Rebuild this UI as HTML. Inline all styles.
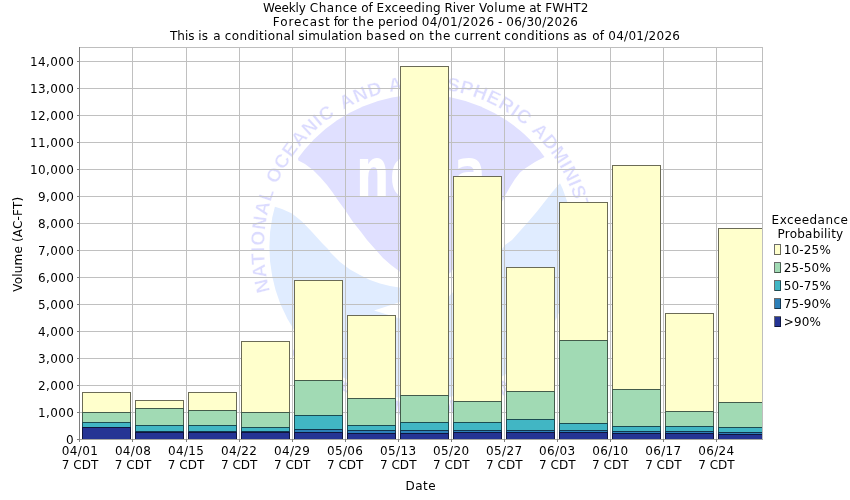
<!DOCTYPE html>
<html lang="en"><head><meta charset="utf-8"><title>Weekly Chance of Exceeding River Volume at FWHT2</title>
<style>html,body{margin:0;padding:0;background:#fff}body{width:850px;height:500px;overflow:hidden}svg{display:block}text{font-family:"DejaVu Sans", "Liberation Sans", sans-serif;font-size:12px;fill:#000}.t{text-anchor:middle}.r{text-anchor:end}.ring{font-family:"Liberation Sans",sans-serif;font-weight:bold;fill:#dcdcff;stroke:#fff;stroke-width:0.3px}.noaa{font-family:"DejaVu Sans","Liberation Sans",sans-serif;font-weight:bold;fill:#fff}</style></head><body>
<svg width="850" height="500" viewBox="0 0 850 500">
<rect width="850" height="500" fill="#fff"/>
<g opacity="0.999">
<g><text x="263.10" y="11.70" textLength="42.82" lengthAdjust="spacing">Weekly</text><text x="309.83" y="11.70" textLength="47.41" lengthAdjust="spacing">Chance</text><text x="361.14" y="11.70">of</text><text x="376.62" y="11.70" textLength="64.00" lengthAdjust="spacing">Exceeding</text><text x="444.52" y="11.70" textLength="30.48" lengthAdjust="spacing">River</text><text x="478.91" y="11.70" textLength="46.47" lengthAdjust="spacing">Volume</text><text x="529.28" y="11.70">at</text><text x="545.32" y="11.70" textLength="43.08" lengthAdjust="spacing">FWHT2</text></g>
<g><text x="272.82" y="25.70" textLength="57.00" lengthAdjust="spacing">Forecast</text><text x="333.72" y="25.70" textLength="15.05" lengthAdjust="spacing">for</text><text x="352.68" y="25.70" textLength="21.33" lengthAdjust="spacing">the</text><text x="377.91" y="25.70" textLength="39.90" lengthAdjust="spacing">period</text><text x="421.71" y="25.70" textLength="72.31" lengthAdjust="spacing">04/01/2026</text><text x="497.91" y="25.70">-</text><text x="506.21" y="25.70" textLength="71.75" lengthAdjust="spacing">06/30/2026</text></g>
<g><text x="170.04" y="39.70" textLength="24.43" lengthAdjust="spacing">This</text><text x="198.37" y="39.70">is</text><text x="213.28" y="39.70">a</text><text x="224.84" y="39.70" textLength="69.61" lengthAdjust="spacing">conditional</text><text x="298.35" y="39.70" textLength="63.66" lengthAdjust="spacing">simulation</text><text x="365.91" y="39.70" textLength="39.53" lengthAdjust="spacing">based</text><text x="409.34" y="39.70">on</text><text x="429.18" y="39.70" textLength="21.26" lengthAdjust="spacing">the</text><text x="454.34" y="39.70" textLength="46.10" lengthAdjust="spacing">current</text><text x="504.34" y="39.70" textLength="65.04" lengthAdjust="spacing">conditions</text><text x="573.28" y="39.70">as</text><text x="592.34" y="39.70">of</text><text x="608.21" y="39.70" textLength="71.75" lengthAdjust="spacing">04/01/2026</text></g>
<defs><clipPath id="pc"><rect x="79" y="47" width="684" height="393"/></clipPath>
<clipPath id="disc"><circle cx="421.8" cy="247" r="152.4"/></clipPath>
<path id="arcTop" d="M273.68 301.61 A158.8 158.8 0 1 1 570.14 306.79" fill="none"/>
<path id="arcBot" d="M289.73 351.35 A169 169 0 0 0 556.07 351.35" fill="none"/>
</defs>
<g clip-path="url(#pc)">
<g id="logo">
<g clip-path="url(#disc)">
<path fill="#e0e0ff" d="M250 120 L298 158 L298.3 160.5 L305 164 L313 170 L320 177 L327 185 L333 193 L337 199 L345 210 L353 222 L361 232 L367 240 L375 249 L383 258 L391 265 L399 271 L412 283 L424 291 L436 286 L451 272 L470 247 L488 220 L503 200 L506 194 L510 187 L515 179 L520 172.5 L525 168.5 L535 162 L544.5 157 L600 130 L600 60 L250 60 Z"/>
<path fill="#e0ecff" d="M260 200 L275 206.8 L282 209 L292 213.5 L302 221.5 L312 232 L322 243 L328 249 L330 252 L340 262 L350 269.5 L360 275 L370 280 L380 283.5 L390 286 L399 287.5 L440 292 L440 298 L400 302 L391 305 L374 310.5 L387 314.5 L400 318.5 L430 322 L451 294 L502 249 L505 245 L512 240 L520 231 L528 222 L537 211.5 L546 200 L554 190 L561.5 181.5 L600 150 L600 420 L250 420 Z"/>
</g>
<text class="noaa" style="font-size:68.5px" transform="translate(360.00,195.6) scale(0.6850,1)" x="-5.75" y="0">n</text>
<text class="noaa" style="font-size:68.5px" transform="translate(392.00,195.6) scale(0.6266,1)" x="-2.94" y="0">o</text>
<text class="noaa" style="font-size:68.5px" transform="translate(424.00,195.6) scale(0.6808,1)" x="-2.94" y="0">a</text>
<text class="noaa" style="font-size:68.5px" transform="translate(456.00,195.6) scale(0.6808,1)" x="-2.94" y="0">a</text>
<text class="ring" style="font-size:19px;letter-spacing:0.67px"><textPath href="#arcTop" startOffset="11.09">NATIONAL</textPath></text>
<text class="ring" style="font-size:19px;letter-spacing:0.77px"><textPath href="#arcTop" startOffset="119.73">OCEANIC</textPath></text>
<text class="ring" style="font-size:19px;letter-spacing:0.77px"><textPath href="#arcTop" startOffset="221.45">AND</textPath></text>
<text class="ring" style="font-size:19px;letter-spacing:0.57px"><textPath href="#arcTop" startOffset="271.06">ATMOSPHERIC</textPath></text>
<text class="ring" style="font-size:19px;letter-spacing:0.37px"><textPath href="#arcTop" startOffset="423.50">ADMINISTRATION</textPath></text>
<text class="ring" style="font-size:20px"><textPath href="#arcBot" textLength="306.759" lengthAdjust="spacing">U.S. DEPARTMENT OF COMMERCE</textPath></text>
</g>
<g shape-rendering="crispEdges" stroke="#c0c0c0" stroke-width="1">
<line x1="132.5" y1="47" x2="132.5" y2="439"/>
<line x1="186.5" y1="47" x2="186.5" y2="439"/>
<line x1="239.5" y1="47" x2="239.5" y2="439"/>
<line x1="292.5" y1="47" x2="292.5" y2="439"/>
<line x1="345.5" y1="47" x2="345.5" y2="439"/>
<line x1="398.5" y1="47" x2="398.5" y2="439"/>
<line x1="451.5" y1="47" x2="451.5" y2="439"/>
<line x1="504.5" y1="47" x2="504.5" y2="439"/>
<line x1="557.5" y1="47" x2="557.5" y2="439"/>
<line x1="610.5" y1="47" x2="610.5" y2="439"/>
<line x1="663.5" y1="47" x2="663.5" y2="439"/>
<line x1="716.5" y1="47" x2="716.5" y2="439"/>
<line x1="79" y1="412.5" x2="763" y2="412.5"/>
<line x1="79" y1="385.5" x2="763" y2="385.5"/>
<line x1="79" y1="358.5" x2="763" y2="358.5"/>
<line x1="79" y1="331.5" x2="763" y2="331.5"/>
<line x1="79" y1="304.5" x2="763" y2="304.5"/>
<line x1="79" y1="277.5" x2="763" y2="277.5"/>
<line x1="79" y1="250.5" x2="763" y2="250.5"/>
<line x1="79" y1="223.5" x2="763" y2="223.5"/>
<line x1="79" y1="196.5" x2="763" y2="196.5"/>
<line x1="79" y1="169.5" x2="763" y2="169.5"/>
<line x1="79" y1="142.5" x2="763" y2="142.5"/>
<line x1="79" y1="115.5" x2="763" y2="115.5"/>
<line x1="79" y1="88.5" x2="763" y2="88.5"/>
<line x1="79" y1="61.5" x2="763" y2="61.5"/>
</g>
<g shape-rendering="crispEdges">
<rect x="82" y="392" width="49" height="21" fill="#ffffcc"/>
<rect x="82" y="412" width="49" height="11" fill="#a1dab4"/>
<rect x="82" y="422" width="49" height="6" fill="#41b6c4"/>
<rect x="82" y="427" width="49" height="13" fill="#253494"/>
<rect x="135" y="400" width="49" height="9" fill="#ffffcc"/>
<rect x="135" y="408" width="49" height="18" fill="#a1dab4"/>
<rect x="135" y="425" width="49" height="7" fill="#41b6c4"/>
<rect x="135" y="431" width="49" height="2" fill="#2c7fb8"/>
<rect x="135" y="432" width="49" height="8" fill="#253494"/>
<rect x="188" y="392" width="49" height="19" fill="#ffffcc"/>
<rect x="188" y="410" width="49" height="16" fill="#a1dab4"/>
<rect x="188" y="425" width="49" height="7" fill="#41b6c4"/>
<rect x="188" y="431" width="49" height="2" fill="#2c7fb8"/>
<rect x="188" y="432" width="49" height="8" fill="#253494"/>
<rect x="241" y="341" width="49" height="72" fill="#ffffcc"/>
<rect x="241" y="412" width="49" height="16" fill="#a1dab4"/>
<rect x="241" y="427" width="49" height="5" fill="#41b6c4"/>
<rect x="241" y="431" width="49" height="2" fill="#2c7fb8"/>
<rect x="241" y="432" width="49" height="8" fill="#253494"/>
<rect x="294" y="280" width="49" height="101" fill="#ffffcc"/>
<rect x="294" y="380" width="49" height="36" fill="#a1dab4"/>
<rect x="294" y="415" width="49" height="15" fill="#41b6c4"/>
<rect x="294" y="429" width="49" height="4" fill="#2c7fb8"/>
<rect x="294" y="432" width="49" height="8" fill="#253494"/>
<rect x="347" y="315" width="49" height="84" fill="#ffffcc"/>
<rect x="347" y="398" width="49" height="28" fill="#a1dab4"/>
<rect x="347" y="425" width="49" height="6" fill="#41b6c4"/>
<rect x="347" y="430" width="49" height="4" fill="#2c7fb8"/>
<rect x="347" y="433" width="49" height="7" fill="#253494"/>
<rect x="400" y="66" width="49" height="330" fill="#ffffcc"/>
<rect x="400" y="395" width="49" height="28" fill="#a1dab4"/>
<rect x="400" y="422" width="49" height="9" fill="#41b6c4"/>
<rect x="400" y="430" width="49" height="4" fill="#2c7fb8"/>
<rect x="400" y="433" width="49" height="7" fill="#253494"/>
<rect x="453" y="176" width="49" height="226" fill="#ffffcc"/>
<rect x="453" y="401" width="49" height="22" fill="#a1dab4"/>
<rect x="453" y="422" width="49" height="9" fill="#41b6c4"/>
<rect x="453" y="430" width="49" height="3" fill="#2c7fb8"/>
<rect x="453" y="432" width="49" height="8" fill="#253494"/>
<rect x="506" y="267" width="49" height="125" fill="#ffffcc"/>
<rect x="506" y="391" width="49" height="29" fill="#a1dab4"/>
<rect x="506" y="419" width="49" height="12" fill="#41b6c4"/>
<rect x="506" y="430" width="49" height="3" fill="#2c7fb8"/>
<rect x="506" y="432" width="49" height="8" fill="#253494"/>
<rect x="559" y="202" width="49" height="139" fill="#ffffcc"/>
<rect x="559" y="340" width="49" height="84" fill="#a1dab4"/>
<rect x="559" y="423" width="49" height="8" fill="#41b6c4"/>
<rect x="559" y="430" width="49" height="3" fill="#2c7fb8"/>
<rect x="559" y="432" width="49" height="8" fill="#253494"/>
<rect x="612" y="165" width="49" height="225" fill="#ffffcc"/>
<rect x="612" y="389" width="49" height="38" fill="#a1dab4"/>
<rect x="612" y="426" width="49" height="6" fill="#41b6c4"/>
<rect x="612" y="431" width="49" height="3" fill="#2c7fb8"/>
<rect x="612" y="433" width="49" height="7" fill="#253494"/>
<rect x="665" y="313" width="49" height="99" fill="#ffffcc"/>
<rect x="665" y="411" width="49" height="16" fill="#a1dab4"/>
<rect x="665" y="426" width="49" height="6" fill="#41b6c4"/>
<rect x="665" y="431" width="49" height="3" fill="#2c7fb8"/>
<rect x="665" y="433" width="49" height="7" fill="#253494"/>
<rect x="718" y="228" width="49" height="175" fill="#ffffcc"/>
<rect x="718" y="402" width="49" height="26" fill="#a1dab4"/>
<rect x="718" y="427" width="49" height="6" fill="#41b6c4"/>
<rect x="718" y="432" width="49" height="3" fill="#2c7fb8"/>
<rect x="718" y="434" width="49" height="6" fill="#253494"/>
<path fill="none" stroke="rgba(0,0,0,0.58)" stroke-width="1" d="M82.5 392.5H130.5V439.5H82.5ZM82.5 412.5H130.5M82.5 422.5H130.5M82.5 427.5H130.5M135.5 400.5H183.5V439.5H135.5ZM135.5 408.5H183.5M135.5 425.5H183.5M135.5 431.5H183.5M135.5 432.5H183.5M188.5 392.5H236.5V439.5H188.5ZM188.5 410.5H236.5M188.5 425.5H236.5M188.5 431.5H236.5M188.5 432.5H236.5M241.5 341.5H289.5V439.5H241.5ZM241.5 412.5H289.5M241.5 427.5H289.5M241.5 431.5H289.5M241.5 432.5H289.5M294.5 280.5H342.5V439.5H294.5ZM294.5 380.5H342.5M294.5 415.5H342.5M294.5 429.5H342.5M294.5 432.5H342.5M347.5 315.5H395.5V439.5H347.5ZM347.5 398.5H395.5M347.5 425.5H395.5M347.5 430.5H395.5M347.5 433.5H395.5M400.5 66.5H448.5V439.5H400.5ZM400.5 395.5H448.5M400.5 422.5H448.5M400.5 430.5H448.5M400.5 433.5H448.5M453.5 176.5H501.5V439.5H453.5ZM453.5 401.5H501.5M453.5 422.5H501.5M453.5 430.5H501.5M453.5 432.5H501.5M506.5 267.5H554.5V439.5H506.5ZM506.5 391.5H554.5M506.5 419.5H554.5M506.5 430.5H554.5M506.5 432.5H554.5M559.5 202.5H607.5V439.5H559.5ZM559.5 340.5H607.5M559.5 423.5H607.5M559.5 430.5H607.5M559.5 432.5H607.5M612.5 165.5H660.5V439.5H612.5ZM612.5 389.5H660.5M612.5 426.5H660.5M612.5 431.5H660.5M612.5 433.5H660.5M665.5 313.5H713.5V439.5H665.5ZM665.5 411.5H713.5M665.5 426.5H713.5M665.5 431.5H713.5M665.5 433.5H713.5M718.5 228.5H766.5V439.5H718.5ZM718.5 402.5H766.5M718.5 427.5H766.5M718.5 432.5H766.5M718.5 434.5H766.5"/>
</g>
</g>
<g shape-rendering="crispEdges" fill="none">
<rect x="79.5" y="47.5" width="683" height="392" stroke="#bebebe"/>
<line x1="79.5" y1="47" x2="79.5" y2="440" stroke="#7e7e7e"/>
<line x1="79" y1="439.5" x2="763" y2="439.5" stroke="#a6a6a2"/>
<line x1="79.5" y1="439" x2="79.5" y2="442" stroke="#7e7e7e"/>
<line x1="132.5" y1="439" x2="132.5" y2="442" stroke="#7e7e7e"/>
<line x1="186.5" y1="439" x2="186.5" y2="442" stroke="#7e7e7e"/>
<line x1="239.5" y1="439" x2="239.5" y2="442" stroke="#7e7e7e"/>
<line x1="292.5" y1="439" x2="292.5" y2="442" stroke="#7e7e7e"/>
<line x1="345.5" y1="439" x2="345.5" y2="442" stroke="#7e7e7e"/>
<line x1="398.5" y1="439" x2="398.5" y2="442" stroke="#7e7e7e"/>
<line x1="451.5" y1="439" x2="451.5" y2="442" stroke="#7e7e7e"/>
<line x1="504.5" y1="439" x2="504.5" y2="442" stroke="#7e7e7e"/>
<line x1="557.5" y1="439" x2="557.5" y2="442" stroke="#7e7e7e"/>
<line x1="610.5" y1="439" x2="610.5" y2="442" stroke="#7e7e7e"/>
<line x1="663.5" y1="439" x2="663.5" y2="442" stroke="#7e7e7e"/>
<line x1="716.5" y1="439" x2="716.5" y2="442" stroke="#7e7e7e"/>
<line x1="77" y1="439.5" x2="80" y2="439.5" stroke="#7e7e7e"/>
<line x1="77" y1="412.5" x2="80" y2="412.5" stroke="#7e7e7e"/>
<line x1="77" y1="385.5" x2="80" y2="385.5" stroke="#7e7e7e"/>
<line x1="77" y1="358.5" x2="80" y2="358.5" stroke="#7e7e7e"/>
<line x1="77" y1="331.5" x2="80" y2="331.5" stroke="#7e7e7e"/>
<line x1="77" y1="304.5" x2="80" y2="304.5" stroke="#7e7e7e"/>
<line x1="77" y1="277.5" x2="80" y2="277.5" stroke="#7e7e7e"/>
<line x1="77" y1="250.5" x2="80" y2="250.5" stroke="#7e7e7e"/>
<line x1="77" y1="223.5" x2="80" y2="223.5" stroke="#7e7e7e"/>
<line x1="77" y1="196.5" x2="80" y2="196.5" stroke="#7e7e7e"/>
<line x1="77" y1="169.5" x2="80" y2="169.5" stroke="#7e7e7e"/>
<line x1="77" y1="142.5" x2="80" y2="142.5" stroke="#7e7e7e"/>
<line x1="77" y1="115.5" x2="80" y2="115.5" stroke="#7e7e7e"/>
<line x1="77" y1="88.5" x2="80" y2="88.5" stroke="#7e7e7e"/>
<line x1="77" y1="61.5" x2="80" y2="61.5" stroke="#7e7e7e"/>
</g>
<text x="66.00" y="444.00" textLength="8.00" lengthAdjust="spacing">0</text>
<text x="38.00" y="417.00" textLength="36.00" lengthAdjust="spacing">1,000</text>
<text x="38.00" y="390.00" textLength="36.00" lengthAdjust="spacing">2,000</text>
<text x="38.00" y="363.00" textLength="36.00" lengthAdjust="spacing">3,000</text>
<text x="38.00" y="336.00" textLength="36.00" lengthAdjust="spacing">4,000</text>
<text x="38.00" y="309.00" textLength="36.00" lengthAdjust="spacing">5,000</text>
<text x="38.00" y="282.00" textLength="36.00" lengthAdjust="spacing">6,000</text>
<text x="38.00" y="255.00" textLength="36.00" lengthAdjust="spacing">7,000</text>
<text x="38.00" y="228.00" textLength="36.00" lengthAdjust="spacing">8,000</text>
<text x="38.00" y="201.00" textLength="36.00" lengthAdjust="spacing">9,000</text>
<text x="30.00" y="174.00" textLength="44.00" lengthAdjust="spacing">10,000</text>
<text x="30.00" y="147.00" textLength="44.00" lengthAdjust="spacing">11,000</text>
<text x="30.00" y="120.00" textLength="44.00" lengthAdjust="spacing">12,000</text>
<text x="30.00" y="93.00" textLength="44.00" lengthAdjust="spacing">13,000</text>
<text x="30.00" y="66.00" textLength="44.00" lengthAdjust="spacing">14,000</text>
<text x="61.85" y="455.00" textLength="36.00" lengthAdjust="spacing">04/01</text>
<text x="61.80" y="469.00" textLength="36.50" lengthAdjust="spacing">7 CDT</text>
<text x="114.88" y="455.00" textLength="36.00" lengthAdjust="spacing">04/08</text>
<text x="114.83" y="469.00" textLength="36.50" lengthAdjust="spacing">7 CDT</text>
<text x="167.91" y="455.00" textLength="36.00" lengthAdjust="spacing">04/15</text>
<text x="167.86" y="469.00" textLength="36.50" lengthAdjust="spacing">7 CDT</text>
<text x="220.94" y="455.00" textLength="36.00" lengthAdjust="spacing">04/22</text>
<text x="220.89" y="469.00" textLength="36.50" lengthAdjust="spacing">7 CDT</text>
<text x="273.97" y="455.00" textLength="36.00" lengthAdjust="spacing">04/29</text>
<text x="273.92" y="469.00" textLength="36.50" lengthAdjust="spacing">7 CDT</text>
<text x="327.00" y="455.00" textLength="36.00" lengthAdjust="spacing">05/06</text>
<text x="326.95" y="469.00" textLength="36.50" lengthAdjust="spacing">7 CDT</text>
<text x="380.03" y="455.00" textLength="36.00" lengthAdjust="spacing">05/13</text>
<text x="379.98" y="469.00" textLength="36.50" lengthAdjust="spacing">7 CDT</text>
<text x="433.06" y="455.00" textLength="36.00" lengthAdjust="spacing">05/20</text>
<text x="433.01" y="469.00" textLength="36.50" lengthAdjust="spacing">7 CDT</text>
<text x="486.09" y="455.00" textLength="36.00" lengthAdjust="spacing">05/27</text>
<text x="486.04" y="469.00" textLength="36.50" lengthAdjust="spacing">7 CDT</text>
<text x="539.12" y="455.00" textLength="36.00" lengthAdjust="spacing">06/03</text>
<text x="539.07" y="469.00" textLength="36.50" lengthAdjust="spacing">7 CDT</text>
<text x="592.15" y="455.00" textLength="36.00" lengthAdjust="spacing">06/10</text>
<text x="592.10" y="469.00" textLength="36.50" lengthAdjust="spacing">7 CDT</text>
<text x="645.18" y="455.00" textLength="36.00" lengthAdjust="spacing">06/17</text>
<text x="645.13" y="469.00" textLength="36.50" lengthAdjust="spacing">7 CDT</text>
<text x="698.21" y="455.00" textLength="36.00" lengthAdjust="spacing">06/24</text>
<text x="698.16" y="469.00" textLength="36.50" lengthAdjust="spacing">7 CDT</text>
<text x="405.60" y="489.50" textLength="30.00" lengthAdjust="spacing">Date</text>
<g transform="translate(21.9,291.7) rotate(-90)"><text x="0.00" y="0.00" textLength="94.90" lengthAdjust="spacing">Volume (AC-FT)</text></g>
<text x="771.62" y="224.00" textLength="76.22" lengthAdjust="spacing">Exceedance</text>
<text x="777.62" y="237.80" textLength="65.54" lengthAdjust="spacing">Probability</text>
<g shape-rendering="crispEdges" stroke="rgba(0,0,0,0.58)">
<rect x="774.5" y="244.5" width="6" height="10" fill="#ffffcc"/>
<rect x="774.5" y="262.5" width="6" height="10" fill="#a1dab4"/>
<rect x="774.5" y="280.5" width="6" height="10" fill="#41b6c4"/>
<rect x="774.5" y="298.5" width="6" height="10" fill="#2c7fb8"/>
<rect x="774.5" y="316.5" width="6" height="10" fill="#253494"/>
</g>
<text x="783.80" y="253.80" textLength="47.00" lengthAdjust="spacing">10-25%</text>
<text x="783.80" y="271.80" textLength="47.00" lengthAdjust="spacing">25-50%</text>
<text x="783.80" y="289.80" textLength="47.00" lengthAdjust="spacing">50-75%</text>
<text x="783.80" y="307.80" textLength="47.00" lengthAdjust="spacing">75-90%</text>
<text x="783.80" y="325.80" textLength="37.00" lengthAdjust="spacing">&gt;90%</text>
</g>
</svg></body></html>
